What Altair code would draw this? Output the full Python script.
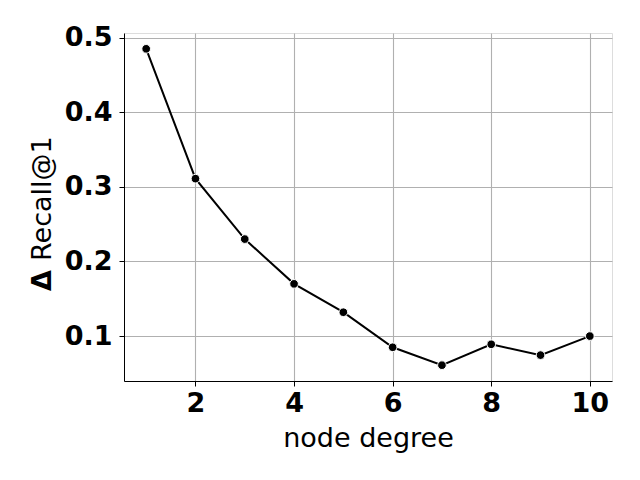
import altair as alt
import pandas as pd

degree = [1, 2, 3, 4, 5, 6, 7, 8, 9, 10]
delta_recall = [0.485, 0.311, 0.230, 0.170, 0.132, 0.085, 0.061, 0.089, 0.0745, 0.100]
x_ticks = [2, 4, 6, 8, 10]
y_ticks = [0.1, 0.2, 0.3, 0.4, 0.5]

df = pd.DataFrame({"degree": degree, "delta": delta_recall})

FONT = "DejaVu Sans"

x_enc = alt.X("degree:Q",
              scale=alt.Scale(domain=[0.55, 10.45], nice=False, zero=False),
              axis=alt.Axis(values=x_ticks, title="node degree", format="d",
                            labelFontSize=27, labelFontWeight="bold", labelFont=FONT,
                            labelColor="black", labelPadding=4,
                            titleFontSize=27, titleFontWeight="normal", titleFont=FONT,
                            titleColor="black", titlePadding=9,
                            tickColor="black", tickSize=5, tickWidth=1,
                            domainColor="black", domainWidth=1,
                            gridColor="#b0b0b0", gridWidth=1.1, grid=True))
y_enc = alt.Y("delta:Q",
              scale=alt.Scale(domain=[0.0398, 0.5062], nice=False, zero=False),
              axis=alt.Axis(values=y_ticks, title=None, format=".1f",
                            labelFontSize=27, labelFontWeight="bold", labelFont=FONT,
                            labelColor="black", labelPadding=7,
                            tickColor="black", tickSize=5, tickWidth=1,
                            domainColor="black", domainWidth=1,
                            gridColor="#b0b0b0", gridWidth=1.1, grid=True))

line = alt.Chart(df).mark_line(color="black", strokeWidth=2).encode(x=x_enc, y=y_enc)
points = alt.Chart(df).mark_point(filled=True, fill="black", stroke="white",
                                  strokeWidth=1, size=75, opacity=1).encode(
    x="degree:Q", y="delta:Q")

delta_sym = alt.Chart(pd.DataFrame({"t": ["Δ"]})).mark_text(
    font=FONT, fontSize=27, fontWeight="bold", angle=270, align="left",
    baseline="alphabetic", color="black").encode(
    text="t:N", x=alt.value(-73), y=alt.value(258))
recall_lbl = alt.Chart(pd.DataFrame({"t": ["Recall@1"]})).mark_text(
    font=FONT, fontSize=27, fontWeight="normal", angle=270, align="left",
    baseline="alphabetic", color="black").encode(
    text="t:N", x=alt.value(-73), y=alt.value(228))

chart = alt.layer(line, points, delta_sym, recall_lbl).properties(
    width=488, height=348,
    autosize=alt.AutoSizeParams(type="none"),
    padding={"left": 116, "top": 25, "right": 20, "bottom": 91},
).configure_view(stroke="black", strokeWidth=1).configure(background="white")

chart.save("out.html", embed_options={"renderer": "svg", "actions": False})
